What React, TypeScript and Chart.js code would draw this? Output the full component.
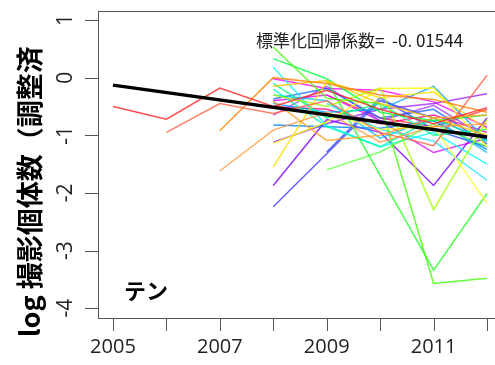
import { useEffect, useRef } from 'react';
import { Chart, registerables } from 'chart.js';

Chart.register(...registerables);

const years = [2005, 2006, 2007, 2008, 2009, 2010, 2011, 2012];
const xLabelYears = [2005, 2007, 2009, 2011];
const yTicks = [1, 0, -1, -2, -3, -4];
const trendYears = [2005, 2012];
const trendValues = [-0.13, -1.03];

const yTitle = 'log 撮影個体数（調整済';
const coefText = '標準化回帰係数=  -0. 01544';
const speciesName = 'テン';

// per-site log counts, years 2005..2012 (null = no survey)
const sites: (number | null)[][] = [
  [-0.5, -0.72, -0.18, -0.5, -0.22, -0.55, -0.8, -0.52],
  [null, -0.95, -0.45, -0.62, -0.4, -0.95, -1.18, 0.04],
  [null, null, -0.92, 0.0, -0.1, -0.3, -0.38, -0.6],
  [null, null, -1.62, -0.91, -0.6, -1.12, -0.85, -0.8],
  [null, null, null, -0.41, -1.09, -1.0, -0.7, -0.65],
  [null, null, null, -0.15, -0.05, -0.45, -0.7, -1.0],
  [null, null, null, -1.55, -0.07, -0.35, -0.25, -0.9],
  [null, null, null, -1.14, -0.77, -0.19, -0.18, -1.2],
  [null, null, null, null, -0.6, -0.9, -0.85, -2.18],
  [null, null, null, -0.3, -0.5, -0.18, -2.29, -0.73],
  [null, null, null, 0.53, -0.36, -0.45, -3.57, -3.48],
  [null, null, null, null, -0.05, null, -3.34, -2.01],
  [null, null, null, 0.33, -0.02, -0.6, -0.75, -0.65],
  [null, null, null, null, -1.6, -1.29, -0.8, -1.2],
  [null, null, null, -0.1, -0.7, -0.45, -1.0, -0.9],
  [null, null, null, -0.2, -0.85, -1.2, -0.7, -1.1],
  [null, null, null, 0.18, -0.83, -1.2, -0.95, -1.5],
  [null, null, null, null, -0.45, -0.9, -1.1, -1.78],
  [null, null, null, -0.3, -0.4, -1.05, -0.7, -1.3],
  [null, null, null, -0.45, -0.6, -0.55, -0.15, -1.09],
  [null, null, null, -0.82, -0.85, -0.88, -0.75, -1.25],
  [null, null, null, -0.37, -0.19, -0.7, -0.55, -1.15],
  [null, null, null, -2.24, null, -0.4, -0.7, -1.1],
  [null, null, null, null, -1.29, -0.35, -0.9, -1.2],
  [null, null, null, -1.87, -0.73, -0.95, -1.87, -0.7],
  [null, null, null, -1.12, -0.8, -0.55, -0.45, -0.28],
  [null, null, null, -0.65, -0.15, -0.75, -0.48, -1.05],
  [null, null, null, -0.02, -0.19, -0.22, -0.42, -0.86],
  [null, null, null, -0.4, -0.3, -0.75, -1.3, -1.05],
  [null, null, null, -0.5, -0.55, -0.8, -0.65, -0.95],
  [null, null, null, null, -0.3, -0.7, -0.85, -0.55],
];

const siteColors = [
  '#ff2020', '#ff6040', '#ff8000', '#ff9a40', '#ffa020', '#ffc000', '#ffe000', '#ffff00',
  '#ffff30', '#a0ff00', '#40ff00', '#20ff20', '#00ff40', '#60ff40', '#00ff80', '#00ffb0',
  '#00ffff', '#20e0ff', '#00c0ff', '#00a0ff', '#0080ff', '#2060ff', '#4040ff', '#3050ff',
  '#8000ff', '#a020ff', '#a040ff', '#ff00ff', '#e000ff', '#ff0080', '#ff3030',
];

const decorPlugin = {
  id: 'rdecor',
  afterDraw(chart: any) {
    const { ctx, chartArea, scales } = chart;
    const xs = scales.x;
    const ys = scales.y;
    ctx.save();
    ctx.strokeStyle = '#555';
    ctx.lineWidth = 1;
    ctx.strokeRect(chartArea.left + 0.5, chartArea.top + 0.5, chartArea.right - chartArea.left, chartArea.bottom - chartArea.top);
    ctx.beginPath();
    years.forEach((yr) => {
      const px = Math.round(xs.getPixelForValue(yr)) + 0.5;
      ctx.moveTo(px, chartArea.bottom);
      ctx.lineTo(px, chartArea.bottom + 13);
    });
    yTicks.forEach((v) => {
      const py = Math.round(ys.getPixelForValue(v)) + 0.5;
      ctx.moveTo(chartArea.left, py);
      ctx.lineTo(chartArea.left - 13, py);
    });
    ctx.stroke();

    ctx.fillStyle = '#222';
    ctx.font = '20px "Open Sans"';
    ctx.textAlign = 'center';
    ctx.textBaseline = 'middle';
    xLabelYears.forEach((yr) => {
      ctx.fillText(String(yr), xs.getPixelForValue(yr), 347);
    });
    ctx.font = '21px "Open Sans"';
    yTicks.forEach((v) => {
      ctx.save();
      ctx.translate(66, ys.getPixelForValue(v));
      ctx.rotate(-Math.PI / 2);
      ctx.fillText(String(v), 0, 0);
      ctx.restore();
    });

    ctx.fillStyle = '#000';
    ctx.save();
    ctx.translate(30, 337);
    ctx.rotate(-Math.PI / 2);
    ctx.textAlign = 'left';
    ctx.font = 'bold 27px "Noto Sans CJK JP"';
    ctx.fillText(yTitle, 0, 0);
    ctx.restore();

    ctx.fillStyle = '#222';
    ctx.textAlign = 'left';
    ctx.font = '17px "Noto Sans CJK JP"';
    ctx.fillText(coefText, 256, 41);

    ctx.fillStyle = '#000';
    ctx.textAlign = 'center';
    ctx.font = 'bold 22px "Noto Sans CJK JP"';
    ctx.fillText(speciesName, 146, 291);
    ctx.restore();
  },
};

export default function App() {
  const ref = useRef<HTMLCanvasElement>(null);
  useEffect(() => {
    document.body.style.margin = '0';
    document.body.style.overflow = 'hidden';
    const siteSets = sites.map((vals, i) => ({
      data: vals
        .map((v, j) => (v === null ? null : { x: years[j], y: v }))
        .filter((p) => p !== null),
      borderColor: siteColors[i % siteColors.length] + 'cc',
      borderWidth: 1.5,
      pointRadius: 0,
      fill: false,
      order: 1,
    }));
    const trendSet = {
      data: trendYears.map((yr, j) => ({ x: yr, y: trendValues[j] })),
      borderColor: '#000',
      borderWidth: 3.5,
      pointRadius: 0,
      fill: false,
      order: 0,
    };
    const chart = new Chart(ref.current as HTMLCanvasElement, {
      type: 'line',
      data: { datasets: [trendSet, ...siteSets] as any },
      options: {
        animation: false,
        responsive: false,
        devicePixelRatio: 1,
        layout: { padding: { left: 98, top: 11, right: 18, bottom: 47 } },
        plugins: { legend: { display: false }, tooltip: { enabled: false } },
        scales: {
          x: { type: 'linear', min: 2004.72, max: 2012.28, display: false },
          y: { type: 'linear', min: -4.17, max: 1.156, display: false },
        },
      },
      plugins: [decorPlugin],
    });
    return () => chart.destroy();
  }, []);
  return (
    <div style={{ position: 'absolute', left: 0, top: 0, width: 495, height: 365, overflow: 'hidden', background: '#fff' }}>
      <canvas ref={ref} width={520} height={365} />
    </div>
  );
}
